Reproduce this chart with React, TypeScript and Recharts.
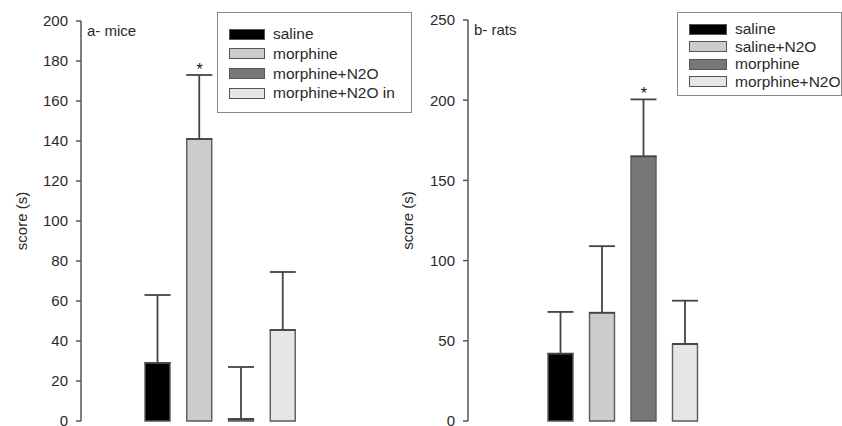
import React from "react"
import {
  BarChart,
  Bar,
  Cell,
  XAxis,
  YAxis,
  ErrorBar,
  ReferenceDot,
} from "recharts"

const FONT = '"Liberation Sans", Arial, sans-serif'

// panel a - mice
const miceGroups = ["saline", "morphine", "morphine+N2O", "morphine+N2O in"]
const miceMeans = [29, 141, 1, 45.5]
const miceErrors = [34, 32, 26, 29]
const miceSig = ["", "*", "", ""]
const miceTicks = [0, 20, 40, 60, 80, 100, 120, 140, 160, 180, 200]
const miceFills = ["#000000", "#cccccc", "#777777", "#e6e6e6"]

// panel b - rats
const ratGroups = ["saline", "saline+N2O", "morphine", "morphine+N2O"]
const ratMeans = [42, 67.5, 165, 48]
const ratErrors = [26, 41.5, 35.5, 27]
const ratSig = ["", "", "*", ""]
const ratTicks = [0, 50, 100, 150, 200, 250]
const ratFills = ["#000000", "#cccccc", "#777777", "#e6e6e6"]

const AXIS = "#555555"
const TEXT = "#2a2a2a"

function buildRows(groups: string[], means: number[], errors: number[], sig: string[]) {
  return groups.map((g, i) => ({
    group: g,
    mean: means[i],
    err: [0, errors[i]],
    top: means[i] + errors[i],
    sig: sig[i],
  }))
}

const miceRows = buildRows(miceGroups, miceMeans, miceErrors, miceSig)
const ratRows = buildRows(ratGroups, ratMeans, ratErrors, ratSig)

function YLabel({ viewBox, cx }: any) {
  const y = viewBox.y + viewBox.height / 2
  return (
    <text
      x={cx}
      y={y}
      textAnchor="middle"
      dominantBaseline="central"
      transform={`rotate(-90 ${cx} ${y})`}
      style={{ fontSize: 15, fill: TEXT, fontFamily: FONT }}
    >
      score (s)
    </text>
  )
}

interface PanelProps {
  rows: ReturnType<typeof buildRows>
  fills: string[]
  ticks: number[]
  max: number
  width: number
  axisWidth: number
  marginTop: number
  marginRight: number
  padLeft: number
  padRight: number
  labelX: number
  title: string
}

function Panel(p: PanelProps) {
  return (
    <BarChart
      width={p.width}
      height={426}
      data={p.rows}
      margin={{ top: p.marginTop, right: p.marginRight, bottom: 5, left: 0 }}
      barSize={25}
      style={{ fontFamily: FONT }}
    >
      <XAxis
        dataKey="group"
        tick={false}
        tickLine={false}
        height={0}
        stroke={AXIS}
        strokeWidth={1.5}
        padding={{ left: p.padLeft, right: p.padRight }}
      />
      <YAxis
        width={p.axisWidth}
        domain={[0, p.max]}
        ticks={p.ticks}
        interval={0}
        tickSize={5}
        tickMargin={8}
        stroke={AXIS}
        strokeWidth={1.5}
        tick={{ fontSize: 15, fill: TEXT, fontFamily: FONT }}
        label={{ content: (lp: any) => <YLabel {...lp} cx={p.labelX} /> }}
      />
      <Bar dataKey="mean" isAnimationActive={false} stroke="#5a5a5a" strokeWidth={1.4}>
        {p.rows.map((_, i) => (
          <Cell key={`c-${i}`} fill={p.fills[i]} />
        ))}
        <ErrorBar dataKey="err" width={13} stroke="#444444" strokeWidth={1.8} direction="y" />
      </Bar>
      {p.rows
        .filter((r) => r.sig)
        .map((r) => (
          <ReferenceDot
            key={`s-${r.group}`}
            x={r.group}
            y={r.top}
            r={0}
            stroke="none"
            label={{ value: r.sig, position: "top", offset: 0, fontSize: 16, fill: "#111" }}
          />
        ))}
      <text
        x={p.axisWidth + 6}
        y={p.marginTop + 9}
        dominantBaseline="central"
        style={{ fontSize: 15, fill: TEXT, fontFamily: FONT }}
      >
        {p.title}
      </text>
    </BarChart>
  )
}

function LegendBox({
  items,
  fills,
  left,
  top,
  width,
  height,
  rowGap,
  firstRow,
  swatchW,
}: {
  items: string[]
  fills: string[]
  left: number
  top: number
  width: number
  height: number
  rowGap: number
  firstRow: number
  swatchW: number
}) {
  return (
    <div
      style={{
        position: "absolute",
        left,
        top,
        width,
        height,
        border: "1.5px solid #8a8a8a",
        boxSizing: "border-box",
        background: "#fff",
        fontFamily: FONT,
      }}
    >
      {items.map((name, i) => (
        <div
          key={name}
          style={{
            position: "absolute",
            left: 11,
            top: firstRow + i * rowGap - 8,
            height: 16,
            display: "flex",
            alignItems: "center",
            whiteSpace: "nowrap",
          }}
        >
          <div
            style={{
              width: swatchW,
              height: 11,
              background: fills[i],
              border: "1px solid #555",
              boxSizing: "border-box",
            }}
          />
          <span style={{ marginLeft: 8, fontSize: 15.5, color: TEXT, lineHeight: "16px" }}>
            {name}
          </span>
        </div>
      ))}
    </div>
  )
}

export default function App() {
  return (
    <div
      style={{
        position: "absolute",
        left: 0,
        top: 0,
        width: 842,
        height: 426,
        background: "#fff",
        overflow: "hidden",
      }}
    >
      <div style={{ position: "absolute", left: 0, top: 0 }}>
        <Panel
          rows={miceRows}
          fills={miceFills}
          ticks={miceTicks}
          max={200}
          width={421}
          axisWidth={81}
          marginTop={21}
          marginRight={101}
          padLeft={56}
          padRight={16}
          labelX={21}
          title="a- mice"
        />
      </div>
      <div style={{ position: "absolute", left: 380, top: 0 }}>
        <Panel
          rows={ratRows}
          fills={ratFills}
          ticks={ratTicks}
          max={250}
          width={462}
          axisWidth={88}
          marginTop={20}
          marginRight={95}
          padLeft={72}
          padRight={41}
          labelX={27}
          title="b- rats"
        />
      </div>
      <LegendBox
        items={miceGroups}
        fills={miceFills}
        left={217}
        top={12}
        width={195}
        height={101}
        firstRow={21}
        rowGap={19.8}
        swatchW={36}
      />
      <LegendBox
        items={ratGroups}
        fills={ratFills}
        left={677}
        top={12}
        width={165}
        height={84}
        firstRow={16}
        rowGap={17.5}
        swatchW={38}
      />
    </div>
  )
}
